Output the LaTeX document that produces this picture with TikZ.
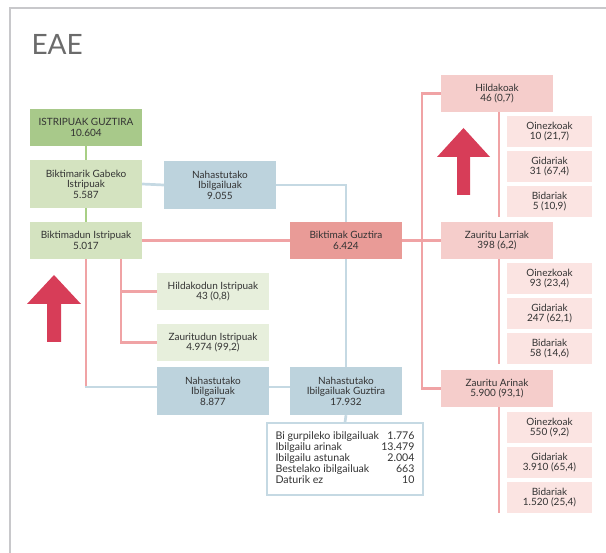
\documentclass[tikz,border=0pt]{standalone}
\usepackage{fontspec}
\setmainfont{Lato}
\definecolor{dgreen}{HTML}{A8C98A}
\definecolor{lgreen}{HTML}{D4E3C0}
\definecolor{vlgreen}{HTML}{E7EFDC}
\definecolor{nblue}{HTML}{BDD3DD}
\definecolor{bkred}{HTML}{E99B97}
\definecolor{npink}{HTML}{F5CDCB}
\definecolor{lpink}{HTML}{FBE4E2}
\definecolor{pinkline}{HTML}{F0A3A5}
\definecolor{blueline}{HTML}{C5D9E3}
\definecolor{greenline}{HTML}{A8CF85}
\definecolor{arrowred}{HTML}{D73D58}
\definecolor{framegray}{HTML}{C8C8CB}
\definecolor{txt}{HTML}{333333}
\begin{document}
\begin{tikzpicture}[x=1pt,y=-1pt,
  box/.style={rectangle, inner sep=0pt, minimum width=112pt, align=center,
    text=txt, font=\fontsize{10}{10.4}\selectfont},
  sbox/.style={box, minimum width=85pt, minimum height=31pt, fill=lpink},
  gl/.style={draw=greenline, line width=2.7pt},
  pl/.style={draw=pinkline, line width=2.7pt},
  bl/.style={draw=blueline, line width=2.7pt},
  bigarrow/.style={fill=arrowred, draw=none}]
\useasboundingbox (0,0) rectangle (606,553);
\draw[framegray, line width=2.2pt] (10,553) -- (10,8) -- (606,8);
\node[anchor=base west, text=black!58, font=\fontsize{28}{30}\selectfont] (title) at (28,55) {EAE};

% left column
\node[box, minimum height=37pt, fill=dgreen] (ig) at (86,127.5) {ISTRIPUAK GUZTIRA\\10.604};
\node[box, minimum height=48pt, fill=lgreen] (bg) at (86,184) {Biktimarik Gabeko\\Istripuak\\5.587};
\node[box, minimum height=37pt, fill=lgreen] (bd) at (86,240.5) {Biktimadun Istripuak\\5.017};
\node[box, minimum height=48pt, fill=nblue] (n1) at (220,185) {Nahastutako\\Ibilgailuak\\9.055};
\node[box, minimum height=37pt, fill=bkred] (bk) at (346,240.5) {Biktimak Guztira\\6.424};
\node[box, minimum height=37pt, fill=vlgreen] (hi) at (213,291.5) {Hildakodun Istripuak\\43 (0,8)};
\node[box, minimum height=37pt, fill=vlgreen] (za) at (213,342.5) {Zauritudun Istripuak\\4.974 (99,2)};
\node[box, minimum height=48pt, fill=nblue] (n2) at (213,391) {Nahastutako\\Ibilgailuak\\8.877};
\node[box, minimum height=48pt, fill=nblue] (ng) at (346,391) {Nahastutako\\Ibilgailuak Guztira\\17.932};
\node[draw=blueline, line width=1.3pt, fill=white, minimum width=156pt, minimum height=72pt, inner sep=0pt,
  text=txt, font=\fontsize{10.6}{10.4}\selectfont] (tb) at (345,459) {%
  \begin{tabular*}{139pt}{@{}l@{\extracolsep{\fill}}r@{}}
  Bi gurpileko ibilgailuak & 1.776\\
  Ibilgailu arinak & 13.479\\
  Ibilgailu astunak & 2.004\\
  Bestelako ibilgailuak & 663\\
  Daturik ez & 10
  \end{tabular*}};

% right column
\node[box, minimum height=37pt, fill=npink] (hk) at (497,93.5) {Hildakoak\\46 (0,7)};
\node[sbox] (hk1) at (549.5,131.5) {Oinezkoak\\10 (21,7)};
\node[sbox] (hk2) at (549.5,166.5) {Gidariak\\31 (67,4)};
\node[sbox] (hk3) at (549.5,201.5) {Bidariak\\5 (10,9)};
\node[box, minimum height=37pt, fill=npink] (zl) at (497,240.5) {Zauritu Larriak\\398 (6,2)};
\node[sbox] (zl1) at (549.5,278.5) {Oinezkoak\\93 (23,4)};
\node[sbox] (zl2) at (549.5,313.5) {Gidariak\\247 (62,1)};
\node[sbox] (zl3) at (549.5,348.5) {Bidariak\\58 (14,6)};
\node[box, minimum height=37pt, fill=npink] (zr) at (497,388.5) {Zauritu Arinak\\5.900 (93,1)};
\node[sbox] (zr1) at (549.5,427.5) {Oinezkoak\\550 (9,2)};
\node[sbox] (zr2) at (549.5,462.5) {Gidariak\\3.910 (65,4)};
\node[sbox] (zr3) at (549.5,497.5) {Bidariak\\1.520 (25,4)};

% connectors
\draw[gl] (ig.south) -- (bg.north);
\draw[gl] (bg.south) -- (bd.north);
\draw[bl] (bg.east) -- (n1.west);
\draw[bl] (n1.east) -| (bk.north);
\draw[pl] (bd.east) -- (bk.west);
\draw[pl] (bk.east) -- (zl.west);
\coordinate (vx) at (422,93.5);
\draw[pl] (hk.west) -- (vx) |- (zr.west);
\coordinate (b1) at (86,387);
\draw[pl] (bd.south) -- (b1);
\draw[bl] ([xshift=-1.35pt]b1) -- (b1 -| n2.west);
\coordinate (b2) at (121,259);
\draw[pl] (b2) |- (za.west);
\draw[pl] (b2 |- hi.west) -- (hi.west);
\draw[bl] (n2.east |- b1) -- (ng.west |- b1);
\draw[bl] (bk.south) -- (ng.north);
\draw[bl] (ng.south) -- (tb.north);
\draw[pl] (hk.south -| 499,0) -- (hk3.south -| 499,0);
\draw[pl] (zl.south -| 499,0) -- (zl3.south -| 499,0);
\draw[pl] (zr.south -| 499,0) -- (zr3.south -| 499,0);

% arrows
\fill[bigarrow] (54,275) -- (81,304) -- (61,304) -- (61,342) -- (47,342) -- (47,304) -- (27,304) -- cycle;
\fill[bigarrow] (463.5,128) -- (490,157) -- (470,157) -- (470,195) -- (457,195) -- (457,157) -- (437,157) -- cycle;
\end{tikzpicture}
\end{document}
